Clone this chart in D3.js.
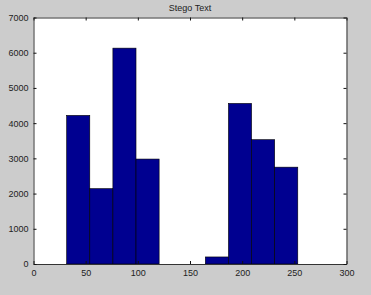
<!DOCTYPE html>
<html>
<head>
<meta charset="utf-8">
<script src="https://cdn.jsdelivr.net/npm/d3@7"></script>
<style>
  body { margin: 0; background: #cccccc; }
  svg text { font-family: "Liberation Sans", Arial, sans-serif; }
</style>
</head>
<body>
<div id="chart-area"></div>
<script>
// --- Data (histogram, 10 bins) ---
var binEdges = [31.8, 53.95, 76.1, 98.25, 120.4, 142.55, 164.7, 186.85, 209.0, 231.15, 253.3];
var binCounts = [4220, 2140, 6130, 2980, 0, 0, 200, 4560, 3530, 2750];
var xTicks = [0, 50, 100, 150, 200, 250, 300];
var yTicks = [0, 1000, 2000, 3000, 4000, 5000, 6000, 7000];
var chartTitle = "Stego Text";

// --- Canvas ---
var canvasWidth = 371;
var canvasHeight = 295;
var canvas = d3.select("#chart-area").append("svg")
	.attr("width", canvasWidth)
	.attr("height", canvasHeight);

canvas.append("rect")
	.attr("width", canvasWidth)
	.attr("height", canvasHeight)
	.attr("fill", "#cccccc");

var margins = {top: 17.5, bottom: 31, left: 33.5, right: 24.5};
var graphWidth = canvasWidth - margins.left - margins.right;
var graphHeight = canvasHeight - margins.top - margins.bottom;

var graph = canvas.append("g")
	.attr("transform", "translate(" + margins.left + "," + margins.top + ")");

graph.append("rect")
	.attr("width", graphWidth)
	.attr("height", graphHeight)
	.attr("fill", "#ffffff");

// --- Scales ---
var xScale = d3.scaleLinear().domain([0, 300]).range([0, graphWidth]);
var yScale = d3.scaleLinear().domain([0, 7000]).range([graphHeight, 0]);

// --- Bars ---
var bins = binCounts.map(function(c, i) {
	return {x0: binEdges[i], x1: binEdges[i + 1], count: c};
});

graph.selectAll("rect.bar")
	.data(bins.filter(function(d) { return d.count > 0; }))
	.enter().append("rect")
		.attr("class", "bar")
		.attr("x", function(d) { return xScale(d.x0); })
		.attr("y", function(d) { return yScale(d.count); })
		.attr("width", function(d) { return xScale(d.x1) - xScale(d.x0); })
		.attr("height", function(d) { return graphHeight - yScale(d.count); })
		.attr("fill", "#000090")
		.attr("stroke", "#000000")
		.attr("stroke-width", 0.6);

// --- Axes (MATLAB style: ticks inside, box on) ---
var tickLen = 3;
var fmt = d3.format("d");

var xAxis = graph.append("g")
	.attr("transform", "translate(0," + graphHeight + ")")
	.call(d3.axisBottom(xScale).tickValues(xTicks).tickFormat(fmt).tickSizeInner(-tickLen).tickSizeOuter(0).tickPadding(6));

var xAxisTop = graph.append("g")
	.call(d3.axisTop(xScale).tickValues(xTicks).tickSizeInner(-tickLen).tickSizeOuter(0).tickFormat(""));

var yAxis = graph.append("g")
	.call(d3.axisLeft(yScale).tickValues(yTicks).tickFormat(fmt).tickSizeInner(-tickLen).tickSizeOuter(0).tickPadding(5));

var yAxisRight = graph.append("g")
	.attr("transform", "translate(" + graphWidth + ",0)")
	.call(d3.axisRight(yScale).tickValues(yTicks).tickSizeInner(-tickLen).tickSizeOuter(0).tickFormat(""));

[xAxis, xAxisTop, yAxis, yAxisRight].forEach(function(ax) {
	ax.selectAll("path").attr("stroke", "#333333");
	ax.selectAll("line").attr("stroke", "#111111");
	ax.selectAll("text")
		.attr("font-size", "9px")
		.attr("fill", "#222222");
});

// --- Title ---
canvas.append("text")
	.text(chartTitle)
	.attr("x", margins.left + graphWidth / 2)
	.attr("y", 11)
	.attr("text-anchor", "middle")
	.attr("font-size", "9px")
	.attr("fill", "#222222");
</script>
</body>
</html>
